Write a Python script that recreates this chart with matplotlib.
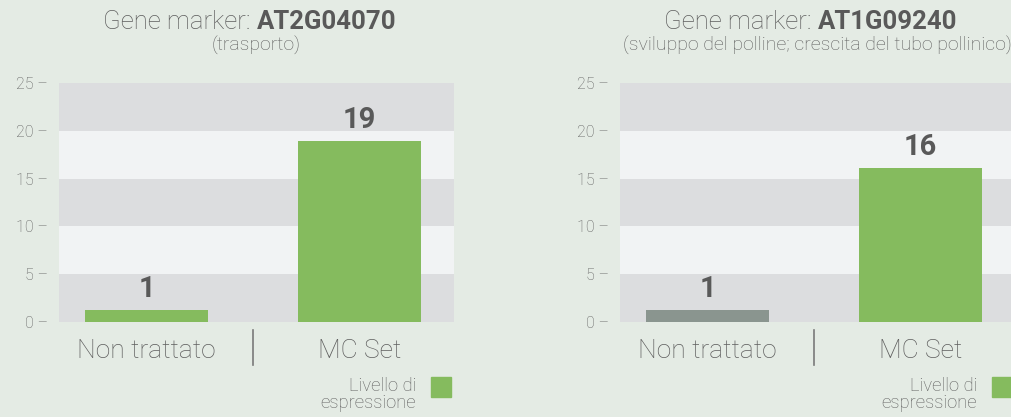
import matplotlib
matplotlib.use("Agg")
import matplotlib.pyplot as plt
from matplotlib.patches import Rectangle

# data
categories = ["Non trattato", "MC Set"]
markers = ["AT2G04070", "AT1G09240"]
subtitles = ["(trasporto)", "(sviluppo del polline; crescita del tubo pollinico)"]
values_a = [1.25, 18.9]
values_b = [1.25, 16.1]
labels_a = ["1", "19"]
labels_b = ["1", "16"]
yticks = [0, 5, 10, 15, 20, 25]

GREEN = "#85bb5e"
GREY_BAR = "#8a958f"
BG = "#e4ebe4"
BAND_DARK = "#dcdddf"
BAND_LIGHT = "#f1f3f4"
TXT = "#5e5e5e"
TXT_BOLD = "#595959"

plt.rcParams["font.family"] = ["Roboto", "DejaVu Sans"]

fig = plt.figure(figsize=(10.12, 4.17), dpi=100, facecolor=BG)
W, H = 1012, 417


def panel(left_px, values, labels, colors, marker, subtitle):
    ax = fig.add_axes([left_px / W, 95 / H, 395 / W, 239 / H])
    ax.set_facecolor(BG)
    # alternating bands
    for i in range(len(yticks) - 1):
        ax.axhspan(yticks[i], yticks[i + 1],
                   color=BAND_DARK if i % 2 == 0 else BAND_LIGHT, lw=0, zorder=0)
    x = range(len(categories))
    ax.bar(x, values, width=0.577, color=colors, zorder=2)
    for xi, v, lab in zip(x, values, labels):
        ax.annotate(lab, (xi, v), xytext=(0, 5), textcoords="offset points",
                    ha="center", va="bottom", fontsize=21, fontweight="bold",
                    color=TXT_BOLD)
    ax.set_xlim(-0.411, 1.444)
    ax.set_ylim(0, 25)
    ax.set_yticks(yticks)
    ax.set_yticklabels([f"{t} \u2013" for t in yticks], fontsize=11.5, color=TXT,
                       fontweight="light")
    ax.set_xticks(list(x))
    ax.set_xticklabels(categories, fontsize=19, color=TXT, fontweight="light")
    ax.tick_params(axis="both", length=0)
    ax.tick_params(axis="y", pad=8)
    ax.tick_params(axis="x", pad=12)
    for s in ax.spines.values():
        s.set_visible(False)
    # separator between category labels
    ax.plot([0.5, 0.5], [-0.035, -0.18], color="#7a7a7a", lw=1.2,
            transform=ax.get_xaxis_transform(), clip_on=False)
    # titles
    ax.text(0.5, 1.255, "Gene marker: ", transform=ax.transAxes, ha="right",
            va="center", fontsize=18.5, color=TXT, fontweight="light")
    ax.text(0.5, 1.255, marker, transform=ax.transAxes, ha="left",
            va="center", fontsize=18.5, color=TXT_BOLD, fontweight="bold")
    ax.text(0.5, 1.155, subtitle, transform=ax.transAxes, ha="center",
            va="center", fontsize=14, color=TXT, fontweight="light")
    # legend
    ax.text(0.904, -0.232, "Livello di\nespressione", transform=ax.transAxes,
            ha="right", va="top", fontsize=13.3, color=TXT, fontweight="light",
            linespacing=0.9)
    ax.add_patch(Rectangle((0.942, -0.314), 0.0506, 0.0837, transform=ax.transAxes,
                           color=GREEN, clip_on=False))
    return ax


panel(59, values_a, labels_a, [GREEN, GREEN], markers[0], subtitles[0])
panel(620, values_b, labels_b, [GREY_BAR, GREEN], markers[1], subtitles[1])

fig.savefig("out.png", dpi=100, facecolor=BG)
